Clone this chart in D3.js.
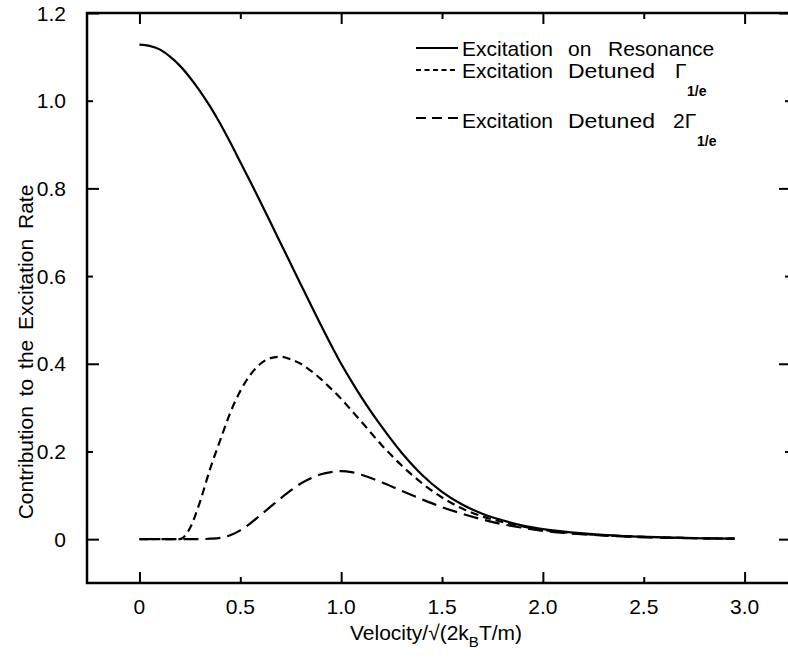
<!DOCTYPE html>
<html>
<head>
<meta charset="utf-8">
<script src="https://cdn.jsdelivr.net/npm/d3@7"></script>
<style>
  body { margin: 0; background: #fff; }
  svg { display: block; }
  text { font-family: "Liberation Sans", Arial, sans-serif; fill: #000; }
</style>
</head>
<body>
<svg id="chart" width="788" height="662"></svg>
<script>
// Values
var velocity = [0, 0.05, 0.1, 0.15, 0.2, 0.25, 0.3, 0.35, 0.4, 0.45, 0.5, 0.55, 0.6, 0.65, 0.7, 0.75, 0.8, 0.85, 0.9, 0.95,
                1.0, 1.05, 1.1, 1.2, 1.3, 1.4, 1.5, 1.6, 1.7, 1.8, 1.9, 2.0, 2.2, 2.4, 2.6, 2.8, 2.95];

var onResonance = [1.128, 1.125, 1.117, 1.101, 1.08, 1.053, 1.022, 0.987, 0.948, 0.905, 0.86, 0.815, 0.769, 0.722, 0.675, 0.628, 0.581, 0.534,
                   0.488, 0.443, 0.40, 0.361, 0.324, 0.257, 0.197, 0.147, 0.108, 0.079, 0.058, 0.043, 0.031, 0.023, 0.013, 0.007, 0.004, 0.002, 0.001];

var detuned1 = [0, 0, 0, 0, 0, 0.025, 0.085, 0.16, 0.225, 0.288, 0.338, 0.375, 0.400, 0.413, 0.416, 0.41, 0.40, 0.384,
                0.365, 0.343, 0.32, 0.294, 0.268, 0.215, 0.168, 0.128, 0.095, 0.070, 0.052, 0.039, 0.029, 0.021, 0.012, 0.007, 0.004, 0.002, 0.001];

var detuned2 = [0, 0, 0, 0, 0, 0, 0, 0.001, 0.003, 0.009, 0.02, 0.036, 0.055, 0.074, 0.093, 0.111, 0.127, 0.139,
                0.148, 0.153, 0.155, 0.153, 0.147, 0.13, 0.11, 0.091, 0.073, 0.058, 0.045, 0.034, 0.026, 0.019, 0.011, 0.006, 0.003, 0.002, 0.001];

var xMajor = [0, 1, 2, 3];
var xMinor = [0.5, 1.5, 2.5];
var xTicks = [0, 0.5, 1.0, 1.5, 2.0, 2.5, 3.0];
var xTickLabels = ["0", "0.5", "1.0", "1.5", "2.0", "2.5", "3.0"];

var yMajor = [0, 0.4, 0.8, 1.2];
var yMinor = [0.2, 0.6, 1.0];
var yTicks = [0, 0.2, 0.4, 0.6, 0.8, 1.0, 1.2];
var yTickLabels = ["0", "0.2", "0.4", "0.6", "0.8", "1.0", "1.2"];

(function() {
  var svg = d3.select("#chart");

  var mLeft = 87, mRight = 791, mTop = 13, mBottom = 583;

  var x = d3.scaleLinear().domain([-0.26, 3.23]).range([mLeft, mRight]);
  var y = d3.scaleLinear().domain([-0.1, 1.2]).range([mBottom, mTop]);

  // ticks (all pointing inwards), no domain path
  function ticks(axis, g) {
    g.call(axis);
    g.select(".domain").remove();
    g.selectAll("line").attr("stroke", "#000").attr("stroke-width", 2);
  }

  function at(tx, ty) { return svg.append("g").attr("transform", "translate(" + tx + "," + ty + ")"); }

  ticks(d3.axisBottom(x).tickValues(xMajor).tickSize(-11).tickFormat(""), at(0, mBottom));
  ticks(d3.axisBottom(x).tickValues(xMinor).tickSize(-6).tickFormat(""), at(0, mBottom));
  ticks(d3.axisTop(x).tickValues(xMajor).tickSize(-11).tickFormat(""), at(0, mTop));
  ticks(d3.axisTop(x).tickValues(xMinor).tickSize(-6).tickFormat(""), at(0, mTop));
  ticks(d3.axisLeft(y).tickValues(yMajor).tickSize(-12).tickFormat(""), at(mLeft, 0));
  ticks(d3.axisLeft(y).tickValues(yMinor).tickSize(-6).tickFormat(""), at(mLeft, 0));
  ticks(d3.axisRight(y).tickValues(yMajor).tickSize(-12).tickFormat(""), at(mRight, 0));
  ticks(d3.axisRight(y).tickValues(yMinor).tickSize(-6).tickFormat(""), at(mRight, 0));

  // tick labels
  svg.append("g").selectAll("text").data(xTicks).enter().append("text")
    .attr("x", function(d) { return x(d); })
    .attr("y", 614)
    .attr("text-anchor", "middle")
    .style("font-size", "21px")
    .text(function(d, i) { return xTickLabels[i]; });

  svg.append("g").selectAll("text").data(yTicks).enter().append("text")
    .attr("x", 66)
    .attr("y", function(d) { return y(d) + 7.5; })
    .attr("text-anchor", "end")
    .style("font-size", "21px")
    .text(function(d, i) { return yTickLabels[i]; });

  // frame
  svg.append("rect")
    .attr("x", mLeft).attr("y", mTop)
    .attr("width", mRight - mLeft).attr("height", mBottom - mTop)
    .attr("fill", "none").attr("stroke", "#000").attr("stroke-width", 2.5);

  // curves
  var series = [
    {values: onResonance, dash: null},
    {values: detuned1, dash: "8,5"},
    {values: detuned2, dash: "15,7"}
  ];

  var line = d3.line()
    .x(function(d) { return x(d[0]); })
    .y(function(d) { return y(d[1]); })
    .curve(d3.curveMonotoneX);

  series.forEach(function(s) {
    svg.append("path")
      .datum(d3.zip(velocity, s.values))
      .attr("d", line)
      .attr("fill", "none")
      .attr("stroke", "#000")
      .attr("stroke-width", 2.2)
      .attr("stroke-dasharray", s.dash);
  });

  // legend (words placed like the plotter output, wide word gaps)
  var legend = svg.append("g").style("font-size", "21px");

  function legendLine(ly, dash) {
    legend.append("line")
      .attr("x1", 416).attr("x2", 458).attr("y1", ly).attr("y2", ly)
      .attr("stroke", "#000").attr("stroke-width", 2)
      .attr("stroke-dasharray", dash);
  }

  legendLine(48, null);
  var t1 = legend.append("text").attr("y", 56);
  t1.append("tspan").attr("x", 462).text("Excitation");
  t1.append("tspan").attr("x", 568).text("on");
  t1.append("tspan").attr("x", 608).text("Resonance");

  legendLine(70, "5,3.5");
  var t2 = legend.append("text").attr("y", 78);
  t2.append("tspan").attr("x", 462).text("Excitation");
  t2.append("tspan").attr("x", 568).attr("textLength", 87).attr("lengthAdjust", "spacingAndGlyphs").text("Detuned");
  t2.append("tspan").attr("x", 675).text("\u0393");
  t2.append("tspan").attr("x", 687).attr("dy", 18).style("font-size", "14px").style("font-weight", "bold").text("1/e");

  legendLine(118, "10,6");
  var t3 = legend.append("text").attr("y", 128);
  t3.append("tspan").attr("x", 462).text("Excitation");
  t3.append("tspan").attr("x", 568).attr("textLength", 87).attr("lengthAdjust", "spacingAndGlyphs").text("Detuned");
  t3.append("tspan").attr("x", 673).text("2\u0393");
  t3.append("tspan").attr("x", 697).attr("dy", 18).style("font-size", "14px").style("font-weight", "bold").text("1/e");

  // axis titles
  var xt = svg.append("text")
    .attr("x", 436).attr("y", 640)
    .attr("text-anchor", "middle")
    .style("font-size", "21px");
  xt.append("tspan").text("Velocity/\u221A(2k");
  xt.append("tspan").attr("dy", 7).style("font-size", "15px").text("B");
  xt.append("tspan").attr("dy", -7).text("T/m)");

  svg.append("text")
    .attr("transform", "translate(33,352) rotate(-90)")
    .attr("text-anchor", "middle")
    .style("font-size", "21px")
    .style("word-spacing", "4px")
    .text("Contribution to the Excitation Rate");
})();
</script>
</body>
</html>
